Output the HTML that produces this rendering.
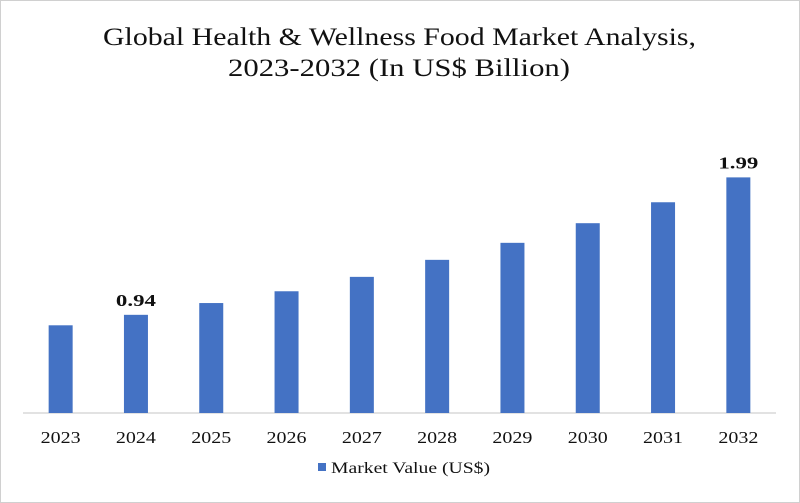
<!DOCTYPE html>
<html><head><meta charset="utf-8"><style>
body{margin:0;background:#fff}
svg{display:block;font-family:"Liberation Serif",serif}
</style></head><body>
<svg width="800" height="503" viewBox="0 0 800 503">
<rect x="0.5" y="0.5" width="799" height="502" fill="#fff" stroke="#d0d0d0"/>
<text x="103" y="45" textLength="593" lengthAdjust="spacingAndGlyphs" font-size="25" fill="#111">Global Health &amp; Wellness Food Market Analysis,</text>
<text x="228" y="76" textLength="342" lengthAdjust="spacingAndGlyphs" font-size="25" fill="#111">2023-2032 (In US$ Billion)</text>
<line x1="23" y1="413" x2="776" y2="413" stroke="#d9d9d9" stroke-width="1.5"/>
<g id="bars"></g>
<rect x="318" y="463" width="8" height="8" fill="#4472c4"/>
<text x="331" y="473" textLength="159" lengthAdjust="spacingAndGlyphs" font-size="16" fill="#111">Market Value (US$)</text>
</svg>
<script>
const categories=["2023","2024","2025","2026","2027","2028","2029","2030","2031","2032"];
const values=[0.86,0.94,1.03,1.12,1.23,1.36,1.49,1.64,1.80,1.99];
const labels=["","0.94","","","","","","","","1.99"];
const yMin=0.19, baseY=413, pxPerUnit=130.9, x0=23, band=75.3, barW=24;
function y(v){return baseY-(v-yMin)*pxPerUnit;}
function xc(i){return x0+band*(i+0.5);}
const g=document.getElementById('bars');
const NS="http://www.w3.org/2000/svg";
categories.forEach((c,i)=>{
  const r=document.createElementNS(NS,'rect');
  r.setAttribute('x',xc(i)-barW/2);r.setAttribute('y',y(values[i]));
  r.setAttribute('width',barW);r.setAttribute('height',baseY-y(values[i]));
  r.setAttribute('fill','#4472c4');
  
  
  g.appendChild(r);
  const t=document.createElementNS(NS,'text');
  t.setAttribute('x',xc(i)-20);t.setAttribute('y',443);
  t.setAttribute('textLength','40');t.setAttribute('lengthAdjust','spacingAndGlyphs');
  t.setAttribute('font-size','17');t.setAttribute('fill','#111');
  t.textContent=c;
  
  
  g.appendChild(t);
  if(labels[i]){
    const l=document.createElementNS(NS,'text');
    l.setAttribute('x',xc(i)-20);l.setAttribute('y',y(values[i])-9);
    l.setAttribute('textLength','40');l.setAttribute('lengthAdjust','spacingAndGlyphs');
    l.setAttribute('font-size','17');l.setAttribute('font-weight','bold');l.setAttribute('fill','#111');
    l.textContent=labels[i];
    
    
    g.appendChild(l);
  }
});
</script>
</body></html>
